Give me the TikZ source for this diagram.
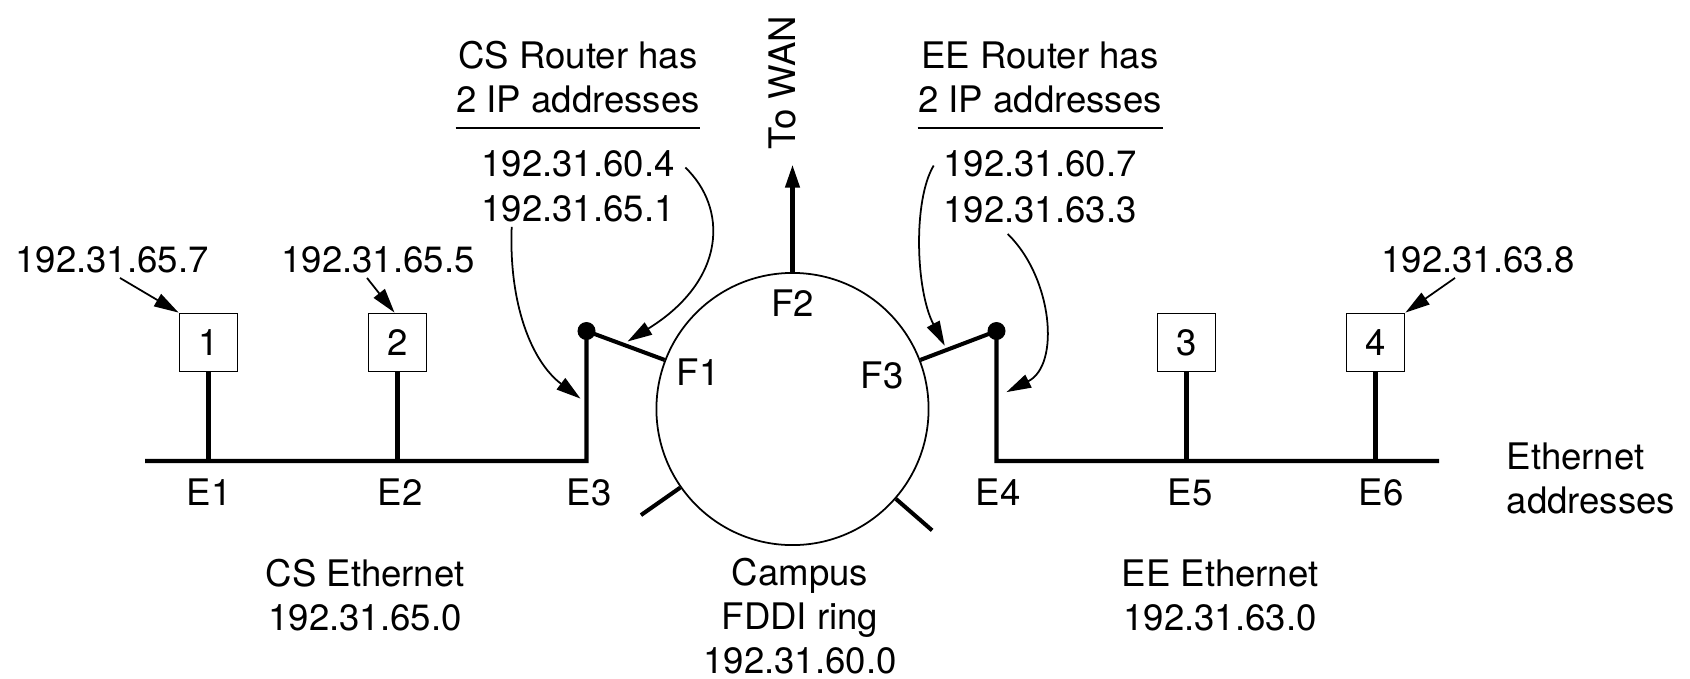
\documentclass[tikz,border=0pt]{standalone}
\usepackage{fontspec}
\setmainfont{TeX Gyre Heros}
\usepackage{tikz}
\usetikzlibrary{arrows.meta,positioning,calc}

\begin{document}
\begin{tikzpicture}[x=0.01cm,y=-0.01cm,
        font=\fontsize{10.4pt}{12.5pt}\selectfont,
        lbl/.style={inner sep=0pt,align=center},
        host/.style={draw,line width=0.5pt,minimum size=0.58cm,inner sep=0pt},
        wire/.style={line width=1.15pt},
        pointer/.style={line width=0.5pt,-{Triangle[length=7pt,width=4pt]}}]
            \useasboundingbox (0,0) rectangle (1690,678);

            % Campus ring
            \node[draw,circle,line width=0.5pt,minimum size=2.72cm,inner sep=0pt] (ring) at (792.5,409) {};
            \node[lbl] (f1) at (698,372) {F1};
            \node[lbl] (f2) at (792.5,303) {F2};
            \node[lbl] (f3) at (882,375) {F3};
            \draw[wire] (ring.215) -- ++(215:0.48cm);
            \draw[wire] (ring.319) -- ++(319:0.48cm);

            % To WAN
            \node[lbl,rotate=90] (wan) at (782.5,82.5) {To WAN};
            \draw[wire,-{Triangle[length=6.5pt,width=4pt]}] (ring.north) -- ([yshift=-0.15cm]ring.north |- wan.west);

            % Hosts
            \node[host] (h1) at (208.5,342.5) {1};
            \node[host] (h2) at (397.5,342.5) {2};
            \node[host] (h3) at (1186.5,342.5) {3};
            \node[host] (h4) at (1375.5,342.5) {4};

            % Routers and Ethernets
            \coordinate (csr) at (586.5,331);
            \coordinate (eer) at (996.5,331);
            \coordinate (e3) at (586.5,461);
            \coordinate (e4) at (996.5,461);
            \coordinate (csend) at (145,461);
            \coordinate (eeend) at (1439,461);
            \draw[wire] (csend) -- (e3) -- (csr) -- (ring.159);
            \draw[wire] (eeend) -- (e4) -- (eer) -- (ring.21);
            \fill (csr) circle[radius=0.09cm];
            \fill (eer) circle[radius=0.09cm];
            \draw[wire] (h1.south) -- (h1.south |- csend);
            \draw[wire] (h2.south) -- (h2.south |- csend);
            \draw[wire] (h3.south) -- (h3.south |- eeend);
            \draw[wire] (h4.south) -- (h4.south |- eeend);

            % Ethernet addresses
            \node[lbl] (eth1) at (209,492) {E1};
            \node[lbl] (eth2) at (400,492) {E2};
            \node[lbl] (eth3) at (589,492) {E3};
            \node[lbl] (eth4) at (998,492) {E4};
            \node[lbl] (eth5) at (1190,492) {E5};
            \node[lbl] (eth6) at (1381,492) {E6};
            \node[lbl,align=left,anchor=west] (ethaddr) at (1506,478.5) {Ethernet\\addresses};

            % Host IP addresses
            \node[lbl] (ip1) at (112,260) {192.31.65.7};
            \node[lbl] (ip2) at (378,260) {192.31.65.5};
            \node[lbl] (ip4) at (1478,260) {192.31.63.8};
            \draw[pointer] ($(ip1.south)+(8,4)$) -- (h1.north west);
            \draw[pointer] ($(ip2.south)+(-11,4)$) -- ($(h2.north)+(-3,0)$);
            \draw[pointer] ($(ip4.south)+(-23,4)$) -- (h4.north east);

            % CS router
            \node[lbl] (csnote) at (578,76.7) {CS Router has\\2 IP addresses};
            \draw[line width=0.5pt] ([yshift=-0.147cm]csnote.south west) -- ([yshift=-0.147cm]csnote.south east);
            \node[lbl] (cs1) at (578,163.5) {192.31.60.4};
            \node[lbl] (cs2) at (578,209) {192.31.65.1};
            \draw[pointer] ($(cs1.east)+(10,4)$) .. controls +(42,40) and +(100,-62) .. ($(csr)!0.5!(ring.159)+(2,-4)$);
            \draw[pointer] ($(cs2.south west)+(31,4)$) .. controls +(-3,75) and +(-50,-38) .. ($(csr)!0.52!(e3)+(-6,0)$);

            % EE router
            \node[lbl] (eenote) at (1040,77) {EE Router has\\2 IP addresses};
            \draw[line width=0.5pt] ([yshift=-0.147cm]eenote.south west) -- ([yshift=-0.147cm]eenote.south east);
            \node[lbl] (ee1) at (1040,163.5) {192.31.60.7};
            \node[lbl] (ee2) at (1040,210) {192.31.63.3};
            \draw[pointer] ($(ee1.west)+(-9,2)$) .. controls +(-21,35) and +(-29,-55) .. ($(ring.21)!0.32!(eer)+(0,-5)$);
            \draw[pointer] ($(ee2.south west)+(65,10)$) .. controls +(45,44) and +(54,-27) .. ($(eer)!0.47!(e4)+(10,0)$);

            % Networks
            \node[lbl] (csnet) at (365,595) {CS Ethernet\\192.31.65.0};
            \node[lbl] (fddi) at (800,616) {Campus\\FDDI ring\\192.31.60.0};
            \node[lbl] (eenet) at (1220,595) {EE Ethernet\\192.31.63.0};
        \end{tikzpicture}
\end{document}
